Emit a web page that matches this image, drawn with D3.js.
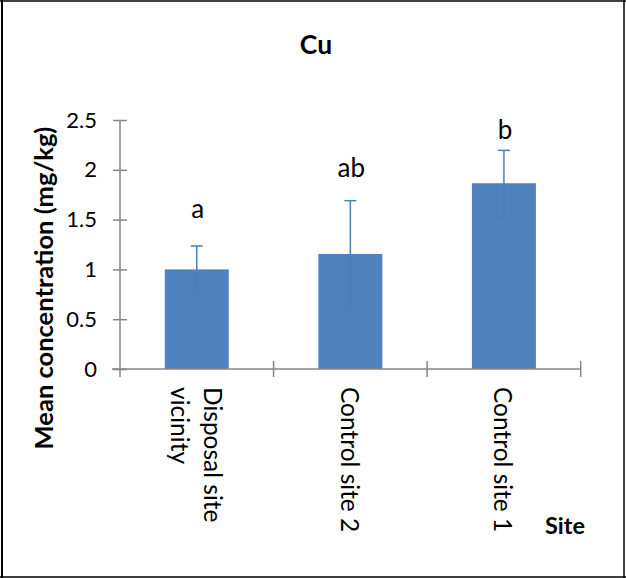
<!DOCTYPE html>
<html>
<head>
<meta charset="utf-8">
<script src="https://cdn.jsdelivr.net/npm/d3@7"></script>
<style>
  html, body { margin: 0; padding: 0; background: #fff; }
  svg { display: block; }
  text { font-family: Lato, "Open Sans", sans-serif; fill: #000; }
</style>
</head>
<body>
<svg id="chart" width="626" height="578"></svg>
<script>
// Mean Cu concentration per site, with error bars and significance letters
const sites = [["Disposal site", "vicinity"], ["Control site 2"], ["Control site 1"]];
const siteKeys = ["Disposal site vicinity", "Control site 2", "Control site 1"];
const meanCu = [1.0, 1.155, 1.865];
const errUpper = [1.235, 1.69, 2.195];
const errLower = [0.755, 0.605, 1.52];
const groupLetters = ["a", "ab", "b"];
const letterLevel = [1.52, 1.93, 2.31];
const yTicks = [0, 0.5, 1, 1.5, 2, 2.5];

const svg = d3.select("#chart");
const W = 626, H = 578;

// outer frame
const frame = svg.append("g").attr("stroke", "#000").attr("fill", "none");
frame.append("line").attr("x1", 0).attr("x2", W).attr("y1", 1).attr("y2", 1).attr("stroke-width", 1.5);
frame.append("line").attr("x1", 2).attr("x2", 2).attr("y1", 0).attr("y2", H).attr("stroke-width", 2);
frame.append("line").attr("x1", W - 2).attr("x2", W - 2).attr("y1", 0).attr("y2", H).attr("stroke-width", 1.5);
frame.append("line").attr("x1", 0).attr("x2", W).attr("y1", H - 1).attr("y2", H - 1).attr("stroke-width", 1.5);

const plot = { left: 120, right: 580.7, top: 120, bottom: 369 };

const x = d3.scaleBand().domain(siteKeys).range([plot.left, plot.right]).padding(0);
const y = d3.scaleLinear().domain([0, 2.5]).range([plot.bottom, plot.top]);
const barW = x.bandwidth() / 2.4;
const cx = k => x(k) + x.bandwidth() / 2;

const axisColor = "#868686";

// bars
svg.append("g").selectAll("rect").data(siteKeys).join("rect")
  .attr("x", d => cx(d) - barW / 2)
  .attr("width", barW)
  .attr("y", (d, i) => y(meanCu[i]))
  .attr("height", (d, i) => y(0) - y(meanCu[i]))
  .attr("fill", "#4f81bd");

// error bars
const eb = svg.append("g").attr("stroke", "#4a7ebb").attr("stroke-width", 1.5).attr("fill", "none");
siteKeys.forEach((k, i) => {
  eb.append("line").attr("x1", cx(k)).attr("x2", cx(k)).attr("y1", y(errUpper[i])).attr("y2", y(errLower[i]));
  eb.append("line").attr("x1", cx(k) - 6).attr("x2", cx(k) + 6).attr("y1", y(errUpper[i])).attr("y2", y(errUpper[i]));
  eb.append("line").attr("x1", cx(k) - 6).attr("x2", cx(k) + 6).attr("y1", y(errLower[i])).attr("y2", y(errLower[i]))
    .attr("stroke-opacity", 0.6);
});

// y axis
const yAxis = svg.append("g").attr("transform", `translate(${plot.left},0)`)
  .call(d3.axisLeft(y).tickValues(yTicks).tickFormat(d3.format("")).tickSize(7).tickPadding(16));
yAxis.select(".domain").remove();
yAxis.selectAll(".tick line").attr("x1", 7).attr("stroke", axisColor).attr("stroke-width", 1.5);
yAxis.selectAll(".tick text").attr("font-size", 22).attr("font-family", "Lato").attr("fill", "#000");
svg.append("line").attr("x1", plot.left).attr("x2", plot.left)
  .attr("y1", plot.top).attr("y2", plot.bottom + 8)
  .attr("stroke", axisColor).attr("stroke-width", 1.5);

// x axis with ticks between categories
svg.append("line").attr("x1", plot.left - 8).attr("x2", plot.right)
  .attr("y1", plot.bottom).attr("y2", plot.bottom)
  .attr("stroke", axisColor).attr("stroke-width", 1.5);
const bounds = siteKeys.map(k => x(k)).concat([x(siteKeys[siteKeys.length - 1]) + x.bandwidth()]);
svg.append("g").selectAll("line").data(bounds.slice(1)).join("line")
  .attr("x1", d => d).attr("x2", d => d)
  .attr("y1", plot.bottom - 8).attr("y2", plot.bottom + 8)
  .attr("stroke", axisColor).attr("stroke-width", 1.5);

// rotated category labels
const catG = svg.append("g");
siteKeys.forEach((k, i) => {
  const lines = sites[i];
  const n = lines.length;
  lines.forEach((ln, j) => {
    const off = ((n - 1) / 2 - j) * 33;
    catG.append("text")
      .attr("transform", `translate(${cx(k) + off},${plot.bottom + 18}) rotate(90)`)
      .attr("dominant-baseline", "central")
      .attr("text-anchor", "start")
      .attr("font-size", 24.5)
      .text(ln);
  });
});

// significance letters
svg.append("g").selectAll("text").data(groupLetters).join("text")
  .attr("x", (d, i) => cx(siteKeys[i]) + 1)
  .attr("y", (d, i) => y(letterLevel[i]))
  .attr("text-anchor", "middle")
  .attr("font-size", 26)
  .text(d => d);

// titles
svg.append("text").attr("x", 316).attr("y", 54).attr("text-anchor", "middle")
  .attr("font-size", 26.5).attr("font-weight", "bold").text("Cu");
svg.append("text").attr("transform", `translate(53,288) rotate(-90)`)
  .attr("text-anchor", "middle").attr("font-size", 25.5).attr("font-weight", "bold")
  .text("Mean concentration (mg/kg)");
svg.append("text").attr("x", 585).attr("y", 534).attr("text-anchor", "end")
  .attr("font-size", 23.5).attr("font-weight", "bold").text("Site");
</script>
</body>
</html>
